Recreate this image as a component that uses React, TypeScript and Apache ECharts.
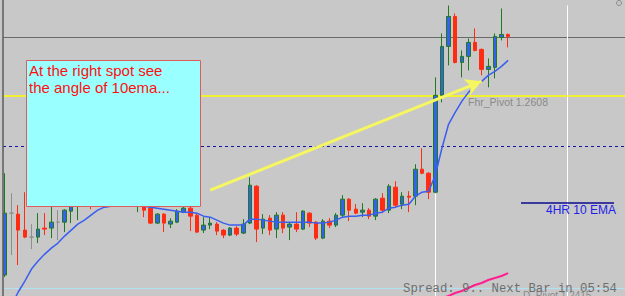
import React, { useEffect, useRef } from "react";
import * as echarts from "echarts";

// bar slots on the x axis (visible bars + empty future slots)
const slotCount = 94;
const categories: string[] = [];
for (let i = 0; i < slotCount; i++) categories.push(String(i));

// candles: [open, close, low, high]
const candles: number[][] = [
  [1.2428, 1.2490, 1.2426, 1.2530],
  [1.2490, 1.2490, 1.2448, 1.2510],
  [1.2489, 1.2473, 1.2438, 1.2498],
  [1.2473, 1.2466, 1.2465, 1.2511],
  [1.2466, 1.2466, 1.2454, 1.2479],
  [1.2466, 1.2474, 1.2460, 1.2490],
  [1.2475, 1.2474, 1.2468, 1.2490],
  [1.2475, 1.2481, 1.2465, 1.2498],
  [1.2481, 1.2481, 1.2463, 1.2493],
  [1.2481, 1.2493, 1.2471, 1.2494],
  [1.2492, 1.2499, 1.2480, 1.2505],
  [1.2498, 1.2507, 1.2483, 1.2513],
  [1.2507, 1.2503, 1.2498, 1.2515],
  [1.2503, 1.2500, 1.2494, 1.2511],
  [1.2500, 1.2508, 1.2497, 1.2513],
  [1.2508, 1.2515, 1.2503, 1.2521],
  [1.2515, 1.2509, 1.2503, 1.2519],
  [1.2509, 1.2513, 1.2501, 1.2518],
  [1.2513, 1.2506, 1.2500, 1.2517],
  [1.2506, 1.2503, 1.2498, 1.2511],
  [1.2499, 1.2504, 1.2491, 1.2508],
  [1.2500, 1.2493, 1.2486, 1.2505],
  [1.2495, 1.2480, 1.2479, 1.2498],
  [1.2480, 1.2489, 1.2479, 1.2490],
  [1.2489, 1.2480, 1.2471, 1.2490],
  [1.2479, 1.2482, 1.2475, 1.2485],
  [1.2481, 1.2492, 1.2480, 1.2494],
  [1.2491, 1.2495, 1.2490, 1.2500],
  [1.2495, 1.2487, 1.2472, 1.2499],
  [1.2488, 1.2471, 1.2470, 1.2490],
  [1.2473, 1.2478, 1.2470, 1.2486],
  [1.2478, 1.2480, 1.2474, 1.2486],
  [1.2479, 1.2472, 1.2468, 1.2481],
  [1.2473, 1.2468, 1.2465, 1.2474],
  [1.2468, 1.2475, 1.2467, 1.2476],
  [1.2475, 1.2469, 1.2467, 1.2477],
  [1.2470, 1.2479, 1.2469, 1.2484],
  [1.2480, 1.2518, 1.2479, 1.2526],
  [1.2517, 1.2474, 1.2461, 1.2518],
  [1.2475, 1.2484, 1.2469, 1.2489],
  [1.2485, 1.2473, 1.2468, 1.2488],
  [1.2474, 1.2488, 1.2465, 1.2491],
  [1.2488, 1.2475, 1.2470, 1.2491],
  [1.2476, 1.2479, 1.2463, 1.2481],
  [1.2479, 1.2474, 1.2471, 1.2491],
  [1.2474, 1.2492, 1.2473, 1.2493],
  [1.2490, 1.2480, 1.2476, 1.2491],
  [1.2481, 1.2465, 1.2463, 1.2482],
  [1.2465, 1.2482, 1.2464, 1.2484],
  [1.2482, 1.2478, 1.2475, 1.2485],
  [1.2478, 1.2488, 1.2476, 1.2490],
  [1.2488, 1.2504, 1.2485, 1.2508],
  [1.2504, 1.2493, 1.2482, 1.2505],
  [1.2494, 1.2490, 1.2489, 1.2499],
  [1.2491, 1.2493, 1.2486, 1.2500],
  [1.2493, 1.2487, 1.2484, 1.2495],
  [1.2487, 1.2504, 1.2483, 1.2505],
  [1.2505, 1.2493, 1.2490, 1.2510],
  [1.2493, 1.2517, 1.2490, 1.2519],
  [1.2516, 1.2498, 1.2496, 1.2522],
  [1.2499, 1.2507, 1.2494, 1.2511],
  [1.2507, 1.2506, 1.2491, 1.2512],
  [1.2507, 1.2534, 1.2498, 1.2539],
  [1.2534, 1.2530, 1.2529, 1.2555],
  [1.2530, 1.2511, 1.2504, 1.2531],
  [1.2511, 1.2608, 1.2510, 1.2626],
  [1.2608, 1.2657, 1.2601, 1.2670],
  [1.2657, 1.2687, 1.2638, 1.2698],
  [1.2687, 1.2641, 1.2640, 1.2690],
  [1.2641, 1.2647, 1.2626, 1.2653],
  [1.2647, 1.2661, 1.2633, 1.2665],
  [1.2661, 1.2653, 1.2652, 1.2675],
  [1.2654, 1.2634, 1.2628, 1.2655],
  [1.2634, 1.2637, 1.2616, 1.2645],
  [1.2636, 1.2667, 1.2625, 1.2670],
  [1.2666, 1.2669, 1.2663, 1.2695],
  [1.2669, 1.2667, 1.2656, 1.2670],
];

// 10 EMA (blue)
const ema10: (number | null)[] = [
  null, 1.2398, 1.2411, 1.2422, 1.2434, 1.2442, 1.2449, 1.2455, 1.2460, 1.2467,
  1.2473, 1.2479, 1.2483, 1.2488, 1.2493, 1.2496, 1.2497, 1.2497, 1.2497, 1.2497,
  1.2497, 1.2497, 1.2496, 1.2495, 1.2494, 1.2493, 1.2492, 1.2491, 1.2491, 1.2490,
  1.2487, 1.2486, 1.2483, 1.2480, 1.2478, 1.2478, 1.2478, 1.2484, 1.2484, 1.2483,
  1.2482, 1.2481, 1.2481, 1.2481, 1.2481, 1.2481, 1.2481, 1.2480, 1.2480, 1.2481,
  1.2483, 1.2486, 1.2487, 1.2487, 1.2488, 1.2488, 1.2490, 1.2491, 1.2495, 1.2496,
  1.2498, 1.2499, 1.2507, 1.2511, 1.2512, 1.2528, 1.2555, 1.2579, 1.2591, 1.2602,
  1.2611, 1.2617, 1.2622, 1.2628, 1.2632, 1.2637, 1.2643,
];

// magenta moving average (only its last bars are inside the window)
const magentaStart = 66;
const magentaMA: number[] = [
  1.2405, 1.2407, 1.2410, 1.2412, 1.2415, 1.2418, 1.2420, 1.2423, 1.2425, 1.2427, 1.2430,
];

// horizontal levels
const bidLevel = 1.2666;
const fhrPivot = 1.2608;
const dashedLevel = 1.2557;
const dPivot = 1.2415;

// price window
const priceMin = 1.2407;
const priceMax = 1.2703;

// vertical separators [bar, top price]
const separatorA = { bar: "65", top: 1.2510 };
const separatorB = { bar: "85", top: 1.2698 };

// arrow annotation [bar, price]
const arrowFrom = ["31", 1.2513];
const arrowTo = ["72", 1.2622];

export default function App() {
  const ref = useRef<HTMLDivElement>(null);

  useEffect(() => {
    document.body.style.margin = "0";
    if (!ref.current) return;
    const chart = echarts.init(ref.current, undefined, { renderer: "svg" });

    const magentaData: (number | null)[] = [];
    for (let i = 0; i < magentaStart; i++) magentaData.push(null);
    magentaMA.forEach((v) => magentaData.push(v));

    const first = categories[0];
    const last = categories[categories.length - 1];
    const hLine = (level: number, lineStyle: any) => [
      { coord: [first, level], lineStyle, x: 3 },
      { coord: [last, level], x: 625 },
    ];

    chart.setOption({
      animation: false,
      backgroundColor: "#c8c8c8",
      grid: { left: 1.69, top: 0.5, width: 622.28, height: 296 },
      xAxis: {
        type: "category",
        data: categories,
        boundaryGap: true,
        show: false,
      },
      yAxis: {
        type: "value",
        min: priceMin,
        max: priceMax,
        show: false,
      },
      series: [
        {
          type: "candlestick",
          data: candles,
          barWidth: 4,
          z: 3,
          silent: true,
          itemStyle: {
            color: "#3462ec",
            color0: "#ff2c12",
            borderColor: "#1f7a1f",
            borderColor0: "#ff2c12",
            borderColorDoji: "#8e8e8e",
            borderWidth: 1,
          },
        },
        {
          type: "line",
          data: ema10,
          showSymbol: false,
          silent: true,
          z: 4,
          lineStyle: { color: "#3a5ef0", width: 1.5 },
          markLine: {
            silent: true,
            z: 1,
            symbol: ["none", "none"],
            label: { show: false },
            emphasis: { disabled: true },
            data: [
              hLine(bidLevel, { color: "#6a6a6a", width: 1, type: "solid" }),
              hLine(fhrPivot, { color: "#ffff00", width: 1.5, type: "solid" }),
              hLine(dashedLevel, { color: "#1414a0", width: 1, type: [3, 3] }),
              hLine(dPivot, { color: "#b2e2f2", width: 1, type: "solid" }),
              [
                {
                  coord: [separatorA.bar, separatorA.top],
                  lineStyle: { color: "#ffffff", width: 1, type: "solid" },
                },
                { coord: [separatorA.bar, priceMin] },
              ],
              [
                {
                  coord: [separatorB.bar, separatorB.top],
                  lineStyle: { color: "#ffffff", width: 1, type: "solid" },
                },
                { coord: [separatorB.bar, priceMin] },
              ],
            ],
          },
        },
        {
          type: "line",
          data: magentaData,
          showSymbol: false,
          silent: true,
          z: 4,
          lineStyle: { color: "#ff1f8f", width: 2 },
          markLine: {
            silent: true,
            z: 6,
            symbol: ["none", "arrow"],
            symbolSize: [13, 16],
            label: { show: false },
            emphasis: { disabled: true },
            data: [
              [
                {
                  coord: arrowFrom,
                  lineStyle: { color: "#f6f660", width: 3, type: "solid" },
                  itemStyle: { color: "#f6f660" },
                },
                { coord: arrowTo },
              ],
            ],
          },
        },
      ],
      graphic: [
        {
          type: "line",
          z: 100,
          shape: { x1: 3, y1: 0, x2: 3, y2: 296 },
          style: { stroke: "#5c5c5c", lineWidth: 1.5 },
        },
        {
          type: "rect",
          z: 100,
          shape: { x: 26.5, y: 60.5, width: 174, height: 146 },
          style: { fill: "#9affff", stroke: "#e05c5c", lineWidth: 1 },
        },
        {
          type: "text",
          z: 101,
          x: 29,
          y: 62,
          style: {
            text: "At the right spot see\nthe angle of 10ema...",
            font: '15px "Liberation Sans", Arial, sans-serif',
            fill: "#ff1010",
            lineHeight: 17,
            verticalAlign: "top",
          },
        },
        {
          type: "text",
          z: 101,
          x: 468,
          y: 96,
          style: {
            text: "Fhr_Pivot 1.2608",
            font: '10.5px "Liberation Sans", Arial, sans-serif',
            fill: "#8a8a8a",
            verticalAlign: "top",
          },
        },
        {
          type: "line",
          z: 100,
          shape: { x1: 521, y1: 203, x2: 614, y2: 203 },
          style: { stroke: "#0a0a90", lineWidth: 1.5 },
        },
        {
          type: "text",
          z: 101,
          x: 546,
          y: 204,
          style: {
            text: "4HR 10 EMA",
            font: '12px "Liberation Sans", Arial, sans-serif',
            fill: "#1e1ee6",
            verticalAlign: "top",
          },
        },
        {
          type: "text",
          z: 101,
          x: 523,
          y: 290,
          style: {
            text: "D_Pivot 1.2415",
            font: '10px "Liberation Sans", Arial, sans-serif',
            fill: "#8a8a8a",
            verticalAlign: "top",
          },
        },
        {
          type: "text",
          z: 102,
          x: 403,
          y: 283,
          style: {
            text: "Spread: 9.. Next Bar in 05:54",
            font: '12.3px "Liberation Mono", "DejaVu Sans Mono", monospace',
            fill: "#6e6e6e",
            verticalAlign: "top",
          },
        },
        {
          type: "circle",
          z: 100,
          shape: { cx: 619, cy: 3, r: 2.5 },
          style: { fill: "none", stroke: "#8a8a8a", lineWidth: 1 },
        },
      ],
    });

    return () => chart.dispose();
  }, []);

  return <div ref={ref} style={{ width: 625, height: 296 }} />;
}
